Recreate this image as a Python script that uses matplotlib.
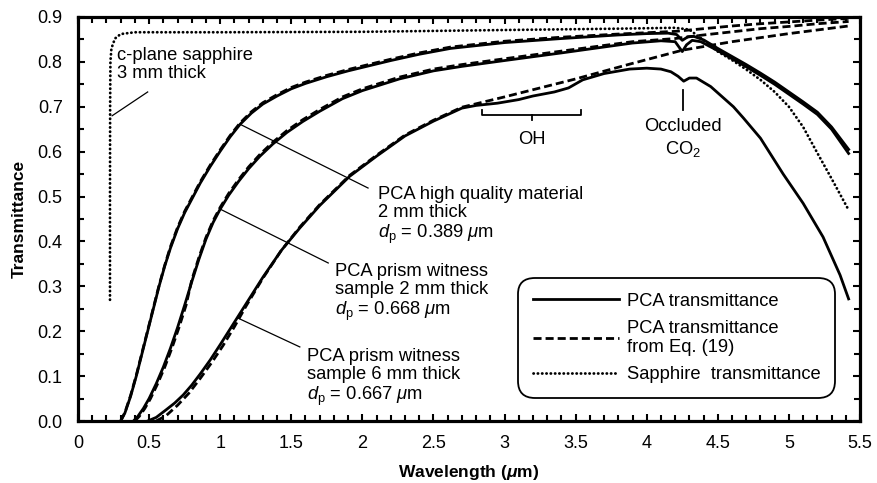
import numpy as np
from matplotlib import pyplot as plt

plt.rcParams.update({'font.family': 'Liberation Sans', 'font.size': 13,
                     'mathtext.fontset': 'custom',
                     'mathtext.rm': 'Liberation Sans',
                     'mathtext.it': 'Liberation Sans:italic',
                     'mathtext.bf': 'Liberation Sans:bold',
                     'mathtext.bfit': 'Liberation Sans:italic:bold'})

# PCA high quality material, 2 mm thick
hq_x = [0.30, 0.33, 0.37, 0.41, 0.45, 0.49, 0.53, 0.57, 0.61, 0.65, 0.70, 0.75, 0.80, 0.86,
        0.93, 1.00, 1.07, 1.14, 1.22, 1.30, 1.40, 1.50, 1.60, 1.75, 1.90, 2.03, 2.20, 2.40,
        2.62, 3.00, 3.40, 3.80, 4.00, 4.15, 4.21, 4.25, 4.29, 4.33, 4.40, 4.50, 4.60, 4.70,
        4.80, 4.90, 5.00, 5.10, 5.20, 5.30, 5.42]
hq_y = [0.000, 0.018, 0.055, 0.100, 0.150, 0.200, 0.250, 0.300, 0.345, 0.385, 0.428, 0.464,
        0.494, 0.530, 0.567, 0.601, 0.633, 0.661, 0.686, 0.706, 0.724, 0.740, 0.752, 0.767,
        0.780, 0.790, 0.803, 0.817, 0.830, 0.843, 0.852, 0.860, 0.863, 0.864, 0.861, 0.848,
        0.856, 0.857, 0.849, 0.830, 0.812, 0.794, 0.775, 0.755, 0.733, 0.711, 0.688, 0.655,
        0.605]
hq_fit_x = [0.30, 0.33, 0.37, 0.41, 0.45, 0.49, 0.53, 0.57, 0.61, 0.65, 0.70, 0.75, 0.80, 0.86,
            0.93, 1.00, 1.07, 1.14, 1.22, 1.30, 1.40, 1.50, 1.60, 1.75, 1.90, 2.03, 2.20, 2.40,
            2.62, 3.00, 3.40, 3.80, 4.00, 4.20, 4.40, 4.60, 4.80, 5.00, 5.20, 5.42]
hq_fit_y = [0.000, 0.019, 0.057, 0.102, 0.152, 0.202, 0.252, 0.302, 0.347, 0.388, 0.431, 0.467,
            0.497, 0.533, 0.570, 0.604, 0.636, 0.664, 0.689, 0.709, 0.727, 0.743, 0.755, 0.770,
            0.783, 0.793, 0.806, 0.820, 0.833, 0.846, 0.855, 0.862, 0.865, 0.868, 0.874, 0.880,
            0.885, 0.889, 0.893, 0.897]

# PCA prism witness sample, 2 mm thick
p2_x = [0.39, 0.42, 0.46, 0.50, 0.55, 0.60, 0.65, 0.70, 0.75, 0.80, 0.85, 0.90, 0.95, 1.00,
        1.06, 1.13, 1.20, 1.28, 1.37, 1.47, 1.58, 1.70, 1.86, 2.00, 2.26, 2.50, 2.70, 3.00,
        3.40, 3.90, 4.10, 4.20, 4.25, 4.28, 4.32, 4.38, 4.50, 4.60, 4.70, 4.80, 4.90, 5.00,
        5.10, 5.20, 5.30, 5.42]
p2_y = [0.000, 0.010, 0.028, 0.050, 0.083, 0.120, 0.162, 0.208, 0.258, 0.310, 0.360, 0.405,
        0.442, 0.472, 0.503, 0.534, 0.562, 0.590, 0.617, 0.643, 0.667, 0.690, 0.718, 0.736,
        0.762, 0.780, 0.790, 0.803, 0.820, 0.842, 0.847, 0.845, 0.823, 0.838, 0.848, 0.845,
        0.825, 0.807, 0.789, 0.770, 0.750, 0.728, 0.706, 0.683, 0.650, 0.596]
p2_fit_x = [0.40, 0.43, 0.47, 0.51, 0.56, 0.61, 0.66, 0.71, 0.76, 0.80, 0.85, 0.90, 0.95, 1.00,
            1.06, 1.13, 1.20, 1.28, 1.37, 1.47, 1.58, 1.70, 1.86, 2.00, 2.26, 2.50, 2.70, 3.00,
            3.40, 3.90, 4.20, 4.40, 4.60, 4.80, 5.00, 5.20, 5.42]
p2_fit_y = [0.000, 0.010, 0.028, 0.050, 0.083, 0.120, 0.162, 0.208, 0.258, 0.314, 0.364, 0.409,
            0.446, 0.476, 0.507, 0.538, 0.566, 0.594, 0.621, 0.647, 0.671, 0.694, 0.722, 0.740,
            0.766, 0.784, 0.794, 0.807, 0.824, 0.845, 0.852, 0.860, 0.867, 0.874, 0.879, 0.885,
            0.890]

# PCA prism witness sample, 6 mm thick
p6_x = [0.49, 0.55, 0.62, 0.68, 0.74, 0.80, 0.86, 0.93, 1.00, 1.06, 1.12, 1.20, 1.30, 1.43,
        1.56, 1.70, 1.91, 2.10, 2.30, 2.50, 2.70, 2.80, 2.95, 3.10, 3.20, 3.35, 3.45, 3.55,
        3.70, 3.88, 4.00, 4.10, 4.17, 4.22, 4.26, 4.30, 4.35, 4.45, 4.61, 4.68, 4.80, 4.96,
        5.10, 5.24, 5.36, 5.42]
p6_y = [0.000, 0.008, 0.025, 0.040, 0.058, 0.080, 0.105, 0.136, 0.170, 0.200, 0.230, 0.270,
        0.320, 0.380, 0.430, 0.480, 0.545, 0.590, 0.635, 0.668, 0.697, 0.703, 0.708, 0.716,
        0.724, 0.733, 0.742, 0.760, 0.774, 0.784, 0.786, 0.784, 0.778, 0.768, 0.757, 0.764,
        0.764, 0.745, 0.700, 0.675, 0.630, 0.550, 0.485, 0.410, 0.325, 0.272]
p6_fit_x = [0.55, 0.62, 0.70, 0.78, 0.86, 0.94, 1.02, 1.10, 1.18, 1.30, 1.43, 1.56, 1.70, 1.91,
            2.10, 2.30, 2.50, 2.70, 3.00, 3.50, 3.88, 4.25, 4.60, 5.00, 5.42]
p6_fit_y = [0.000, 0.012, 0.035, 0.062, 0.095, 0.130, 0.168, 0.210, 0.255, 0.318, 0.380, 0.432,
            0.482, 0.547, 0.592, 0.637, 0.670, 0.699, 0.722, 0.762, 0.795, 0.826, 0.845, 0.863,
            0.880]

# c-plane sapphire, 3 mm thick
sa_x = [0.225, 0.225, 0.226, 0.228, 0.235, 0.26, 0.30, 0.40, 1.00, 2.00, 3.00, 3.80, 4.20,
        4.30, 4.40, 4.50, 4.60, 4.70, 4.80, 4.90, 5.00, 5.10, 5.20, 5.30, 5.42]
sa_y = [0.270, 0.500, 0.700, 0.800, 0.830, 0.852, 0.862, 0.866, 0.866, 0.867, 0.871, 0.874,
        0.876, 0.872, 0.848, 0.823, 0.804, 0.783, 0.760, 0.733, 0.700, 0.655, 0.597, 0.540,
        0.470]

xtick_vals = [0, 0.5, 1, 1.5, 2, 2.5, 3, 3.5, 4, 4.5, 5, 5.5]
xtick_labels = ['0', '0.5', '1', '1.5', '2', '2.5', '3', '3.5', '4', '4.5', '5', '5.5']
ytick_vals = [0.0, 0.1, 0.2, 0.3, 0.4, 0.5, 0.6, 0.7, 0.8, 0.9]

dash = (0, (2.9, 1.45))
dot = (0, (0.1, 1.45))

fig = plt.figure(figsize=(8.77, 4.83), dpi=100)
ax = fig.add_axes([78/877, 1 - 421/483, 782/877, 404/483])

ax.plot(hq_x, hq_y, 'k-', lw=2.0, label='PCA transmittance')
ax.plot(hq_fit_x, hq_fit_y, color='k', ls=dash, lw=2.0, label='PCA transmittance\nfrom Eq. (19)')
ax.plot(sa_x, sa_y, color='k', ls=dot, lw=2.0, dash_capstyle='round', label='Sapphire  transmittance')
ax.plot(p2_x, p2_y, 'k-', lw=2.0)
ax.plot(p2_fit_x, p2_fit_y, color='k', ls=dash, lw=2.0)
ax.plot(p6_x, p6_y, 'k-', lw=2.0)
ax.plot(p6_fit_x, p6_fit_y, color='k', ls=dash, lw=2.0)

# annotations
fs = 13.2
ax.text(0.274, 0.833, 'c-plane sapphire\n3 mm thick', fontsize=fs, va='top', linespacing=1.05)
ax.plot([0.24, 0.49], [0.68, 0.733], 'k-', lw=0.9)

ax.text(2.11, 0.524, 'PCA high quality material\n2 mm thick\n$d_\\mathrm{p}$ = 0.389 $\\mu$m',
        fontsize=fs, va='top', linespacing=1.1)
ax.plot([1.14, 2.04], [0.661, 0.519], 'k-', lw=0.9)

ax.text(1.81, 0.352, 'PCA prism witness\nsample 2 mm thick\n$d_\\mathrm{p}$ = 0.668 $\\mu$m',
        fontsize=fs, va='top', linespacing=1.1)
ax.plot([1.00, 1.76], [0.472, 0.352], 'k-', lw=0.9)

ax.text(1.61, 0.163, 'PCA prism witness\nsample 6 mm thick\n$d_\\mathrm{p}$ = 0.667 $\\mu$m',
        fontsize=fs, va='top', linespacing=1.1)
ax.plot([1.12, 1.56], [0.23, 0.165], 'k-', lw=0.9)

# OH bracket
ax.plot([2.84, 2.84, 3.54, 3.54], [0.693, 0.681, 0.681, 0.693], 'k-', lw=1.3)
ax.plot([3.19, 3.19], [0.681, 0.670], 'k-', lw=1.3)
ax.text(3.19, 0.626, 'OH', fontsize=fs, ha='center', va='center')

# CO2 marker
ax.plot([4.255, 4.255], [0.693, 0.737], 'k-', lw=1.3)
ax.text(4.255, 0.657, 'Occluded', fontsize=fs, ha='center', va='center')
ax.text(4.255, 0.606, 'CO$_2$', fontsize=fs, ha='center', va='center')

ax.set_xlim(0, 5.5)
ax.set_ylim(0, 0.9)
ax.set_xticks(xtick_vals)
ax.set_xticklabels(xtick_labels)
ax.set_yticks(ytick_vals)
ax.set_yticklabels(['%.1f' % v for v in ytick_vals])
ax.set_xticks(np.arange(0, 5.51, 0.1), minor=True)
ax.set_yticks(np.arange(0, 0.91, 0.05), minor=True)
ax.tick_params(which='both', direction='in', top=True, right=True, width=1.5, labelsize=13)
ax.tick_params(which='major', length=5)
ax.tick_params(which='minor', length=4)
ax.tick_params(axis='x', pad=10)
ax.tick_params(axis='y', pad=11)
for sp in ax.spines.values():
    sp.set_linewidth(2.3)

ax.set_xlabel('Wavelength ($\\mathbfit{\\mu}$m)', fontsize=12.5, fontweight='bold', labelpad=8)
ax.set_ylabel('Transmittance', fontsize=12.5, fontweight='bold', labelpad=8)

leg = ax.legend(loc='lower right', bbox_to_anchor=(0.968, 0.057), borderaxespad=0, fontsize=fs,
                handlelength=4.7, handletextpad=0.4, borderpad=0.8, labelspacing=0.55,
                framealpha=1, fancybox=True, edgecolor='k')
leg.get_frame().set_boxstyle('round', pad=0, rounding_size=0.9)
leg.get_frame().set_linewidth(1.3)

plt.savefig('out.png', dpi=100)
